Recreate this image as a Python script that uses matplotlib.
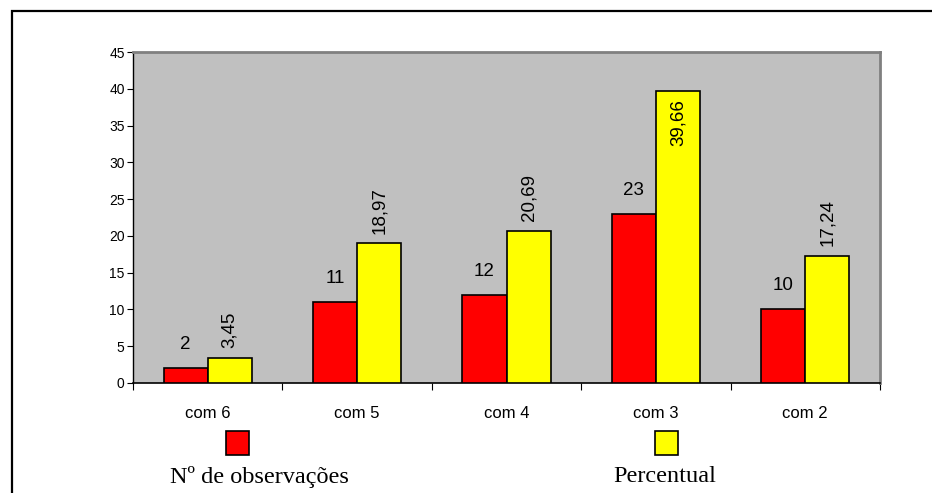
import matplotlib
matplotlib.use("Agg")
import matplotlib.pyplot as plt
from matplotlib.patches import Rectangle
import numpy as np

categories = ["com 6", "com 5", "com 4", "com 3", "com 2"]
observacoes = [2, 11, 12, 23, 10]
percentual = [3.45, 18.97, 20.69, 39.66, 17.24]
obs_labels = ["2", "11", "12", "23", "10"]
pct_labels = ["3,45", "18,97", "20,69", "39,66", "17,24"]
yticks = [0, 5, 10, 15, 20, 25, 30, 35, 40, 45]
legend_names = ["Nº de observações", "Percentual"]

W, H = 932, 493
fig = plt.figure(figsize=(W / 100, H / 100), dpi=100)
fig.patch.set_facecolor("white")

# outer frame
fig.add_artist(Rectangle((12 / W, -0.1), 1.2, (H - 11) / H + 0.1,
                         transform=fig.transFigure, fill=False,
                         edgecolor="black", linewidth=1.6))

ax = fig.add_axes([133 / W, (H - 383) / H, (880 - 133) / W, (383 - 52) / H])
ax.set_facecolor("#C0C0C0")

x = np.arange(len(categories))
bw = 0.295
ax.bar(x - bw / 2, observacoes, width=bw, color="#FF0000", edgecolor="black", linewidth=1.2, zorder=3)
ax.bar(x + bw / 2, percentual, width=bw, color="#FFFF00", edgecolor="black", linewidth=1.2, zorder=3)

ax.set_xlim(-0.5, len(categories) - 0.5)
ax.set_ylim(0, 45)
ax.set_yticks(yticks)
ax.set_yticklabels([str(v) for v in yticks], fontsize=10, family="Liberation Sans")
ax.tick_params(axis="y", length=4, width=0.8, pad=2, direction="out")

ax.set_xticks(np.arange(len(categories) + 1) - 0.5)
ax.set_xticklabels([])
ax.tick_params(axis="x", length=5, width=0.8, direction="out")
for i, c in enumerate(categories):
    ax.text(i, -4.1, c, ha="center", va="center", fontsize=12, family="Liberation Sans")

for s in ["top", "right"]:
    ax.spines[s].set_color("#808080")
    ax.spines[s].set_linewidth(2)
ax.spines["left"].set_color("black")
ax.spines["bottom"].set_color("black")
ax.spines["left"].set_linewidth(1)
ax.spines["bottom"].set_linewidth(1.2)

for i in range(len(categories)):
    ax.annotate(obs_labels[i], (x[i] - bw / 2, observacoes[i]), xytext=(0, 17),
                textcoords="offset points", ha="center", va="center",
                fontsize=13.5, family="Liberation Sans")
    pv = percentual[i]
    if pv > 35:
        ax.annotate(pct_labels[i], (x[i] + bw / 2, pv), xytext=(0, -6),
                    textcoords="offset points", ha="center", va="top",
                    rotation=90, fontsize=13.5, family="Liberation Sans")
    else:
        ax.annotate(pct_labels[i], (x[i] + bw / 2, pv), xytext=(0, 7),
                    textcoords="offset points", ha="center", va="bottom",
                    rotation=90, fontsize=13.5, family="Liberation Sans")

# legend
fig.add_artist(Rectangle((226 / W, (H - 455) / H), 23 / W, 24 / H, transform=fig.transFigure,
                         facecolor="#FF0000", edgecolor="black", linewidth=1.2))
fig.add_artist(Rectangle((655 / W, (H - 455) / H), 23 / W, 24 / H, transform=fig.transFigure,
                         facecolor="#FFFF00", edgecolor="black", linewidth=1.2))
fig.text(259 / W, (H - 477) / H, legend_names[0], ha="center", va="center",
         fontsize=17.5, family="Liberation Serif")
fig.text(665 / W, (H - 477) / H, legend_names[1], ha="center", va="center",
         fontsize=17.5, family="Liberation Serif")

fig.savefig("out.png", dpi=100)
